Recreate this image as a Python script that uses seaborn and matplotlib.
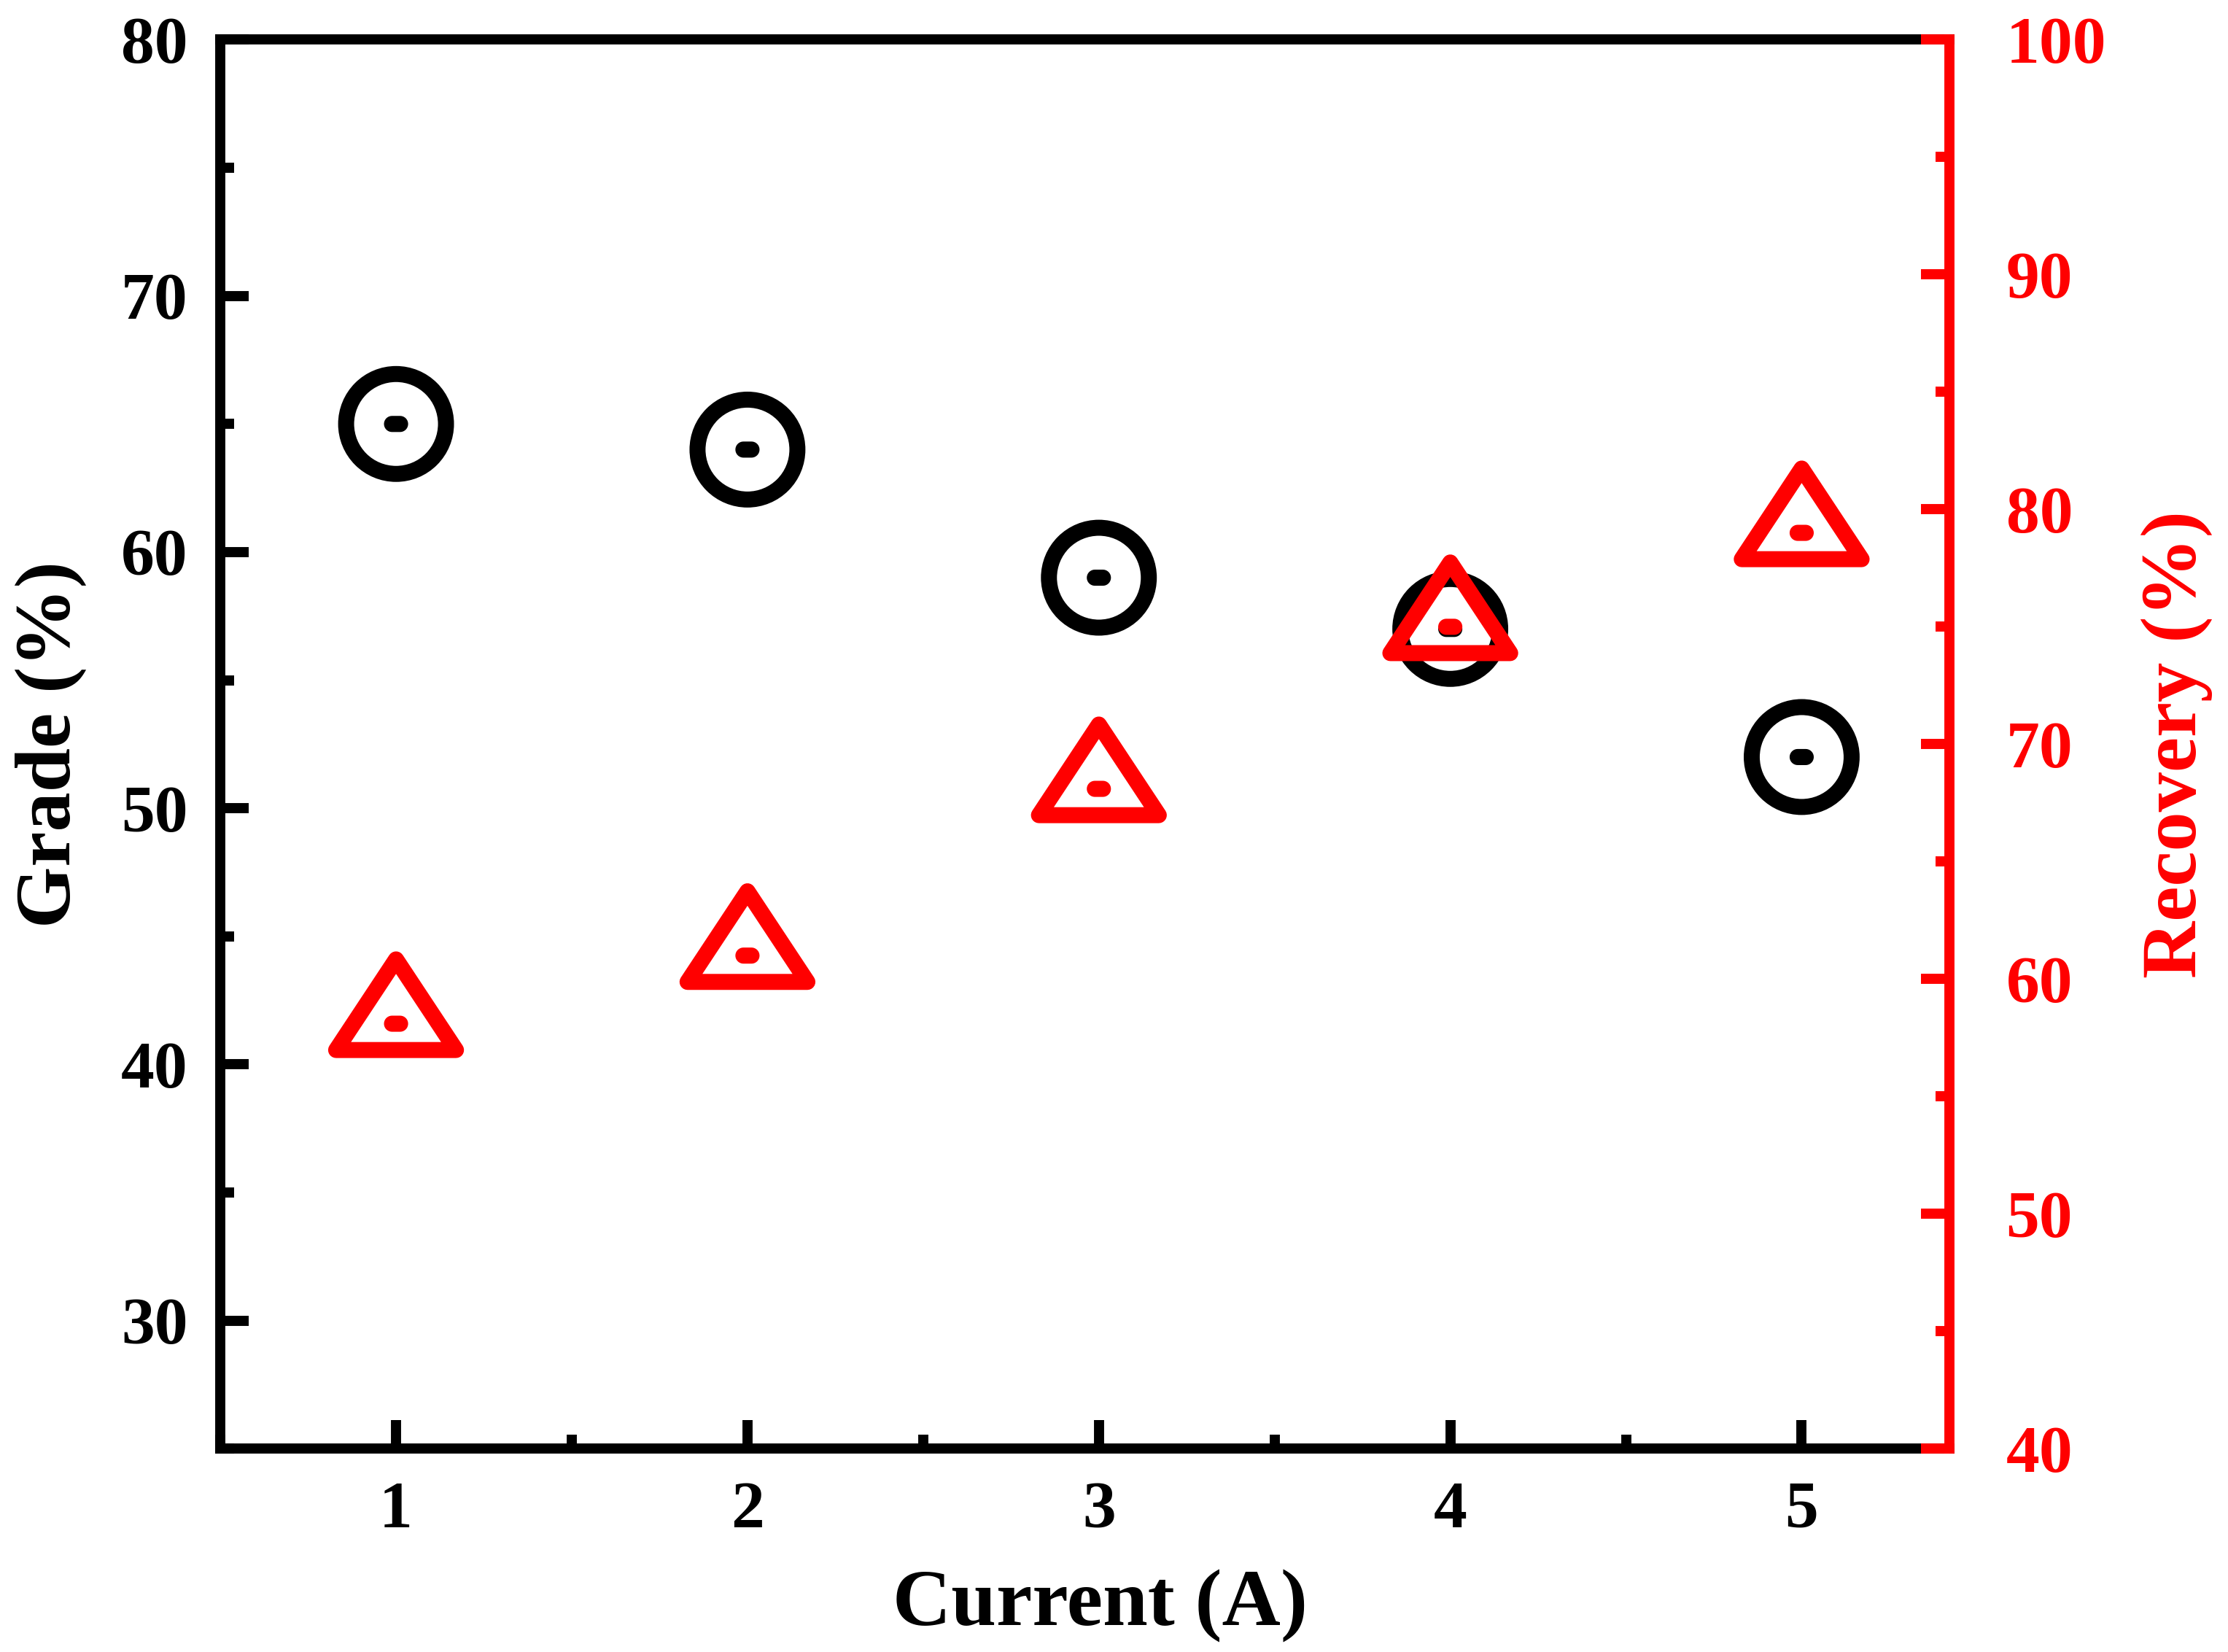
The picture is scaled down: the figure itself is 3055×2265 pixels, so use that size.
import numpy as np
import pandas as pd
import matplotlib
matplotlib.use("Agg")
import matplotlib.pyplot as plt
from matplotlib.path import Path
from matplotlib.markers import MarkerStyle
from matplotlib.ticker import MultipleLocator
import seaborn as sns

# data
current = [1, 2, 3, 4, 5]
grade = [65, 64, 59, 57, 52]
recovery = [58.1, 61.0, 68.1, 75.0, 79.0]

sns.set_style("ticks")
plt.rcParams['font.family'] = ['Liberation Serif', 'DejaVu Serif']
plt.rcParams['font.weight'] = 'bold'
plt.rcParams['axes.labelweight'] = 'bold'
plt.rcParams['text.color'] = 'black'
plt.rcParams['axes.labelcolor'] = 'black'

df = pd.DataFrame({"Current": current, "Grade": grade, "Recovery": recovery})

fig = plt.figure(figsize=(15.275, 11.325), dpi=200)
ax = fig.add_axes([0.0989, 0.123, 0.776, 0.853])
ax2 = ax.twinx()

lw = 5.0
mlw = 7.9
red = "#FF0000"

# small pill shape for the centre of each symbol
t = np.linspace(-np.pi / 2, np.pi / 2, 20)
right_cap = np.column_stack([0.5 + np.cos(t), np.sin(t)])
left_cap = np.column_stack([-0.5 - np.cos(t), -np.sin(t)])
pill_v = np.vstack([right_cap, left_cap, right_cap[:1]])
pill_c = [Path.MOVETO] + [Path.LINETO] * (len(pill_v) - 2) + [Path.CLOSEPOLY]
pill = MarkerStyle(Path(pill_v, pill_c))

# open circle with a dash in the middle
sns.scatterplot(data=df, x="Current", y="Grade", ax=ax, marker="o", s=49.3**2,
                facecolor="none", edgecolor="black", linewidth=mlw, zorder=3)
sns.scatterplot(data=df, x="Current", y="Grade", ax=ax, marker=pill, s=11.9**2,
                color="black", edgecolor="none", linewidth=0, zorder=4)

# open triangle with a dash in the middle
tri_path = Path([(0, 88), (-82, -36), (82, -36), (0, 88)],
                [Path.MOVETO, Path.LINETO, Path.LINETO, Path.CLOSEPOLY])
tri = MarkerStyle(tri_path, joinstyle="round")
sns.scatterplot(data=df, x="Current", y="Recovery", ax=ax2, marker=tri, s=63.5**2,
                facecolor="none", edgecolor=red, linewidth=mlw, zorder=3)
sns.scatterplot(data=df, x="Current", y="Recovery", ax=ax2, marker=pill, s=11.9**2,
                color=red, edgecolor="none", linewidth=0, zorder=4)

ax.set_xlim(0.5, 5.42)
ax.set_ylim(25, 80)
ax2.set_ylim(40, 100)

ax.xaxis.set_major_locator(MultipleLocator(1))
ax.xaxis.set_minor_locator(MultipleLocator(0.5))
ax.yaxis.set_major_locator(MultipleLocator(10))
ax.yaxis.set_minor_locator(MultipleLocator(5))
ax2.yaxis.set_major_locator(MultipleLocator(10))
ax2.yaxis.set_minor_locator(MultipleLocator(5))

ax.tick_params(axis="x", which="both", direction="in", top=False, width=lw,
               labelsize=33, pad=16, colors="black")
ax.tick_params(axis="y", which="both", direction="in", right=False, width=lw,
               labelsize=33, pad=16, colors="black")
ax.tick_params(which="major", length=14)
ax.tick_params(which="minor", length=7)
ax2.tick_params(axis="y", which="both", direction="in", width=lw, labelsize=33,
                pad=28, colors=red)
ax2.tick_params(which="major", length=14)
ax2.tick_params(which="minor", length=7)

for s in ["left", "bottom", "top"]:
    ax.spines[s].set_linewidth(lw)
    ax.spines[s].set_color("black")
ax.spines["right"].set_visible(False)
for s in ["left", "bottom", "top"]:
    ax2.spines[s].set_visible(False)
ax2.spines["right"].set_linewidth(lw)
ax2.spines["right"].set_color(red)

ax.set_xlabel("Current (A)", fontsize=40, fontweight="bold", labelpad=14)
ax.xaxis.label.set_x(0.509)
ax.set_ylabel("Grade (%)", fontsize=39, fontweight="bold", labelpad=17)
ax2.set_ylabel("Recovery (%)", fontsize=39, fontweight="bold", color=red, labelpad=17)

fig.savefig("out.png", dpi=200, facecolor="white")
